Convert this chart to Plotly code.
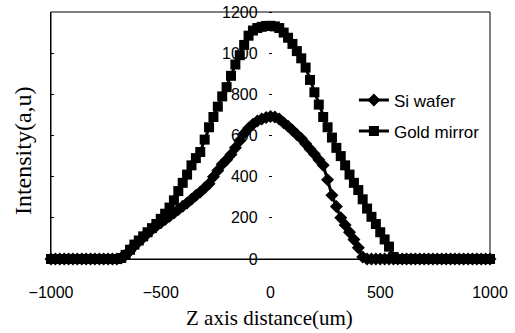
import plotly.graph_objects as go

# Z axis distance (um), sampled every 20 um
z_um = [-1000, -980, -960, -940, -920, -900, -880, -860, -840, -820,
        -800, -780, -760, -740, -720, -700, -680, -660, -640, -620,
        -600, -580, -560, -540, -520, -500, -480, -460, -440, -420,
        -400, -380, -360, -340, -320, -300, -280, -260, -240, -220,
        -200, -180, -160, -140, -120, -100, -80, -60, -40, -20,
        0, 20, 40, 60, 80, 100, 120, 140, 160, 180,
        200, 220, 240, 260, 280, 300, 320, 340, 360, 380,
        400, 420, 440, 460, 480, 500, 520, 540, 560, 580,
        600, 620, 640, 660, 680, 700, 720, 740, 760, 780,
        800, 820, 840, 860, 880, 900, 920, 940, 960, 980, 1000]

si_wafer = [0, 0, 0, 0, 0, 0, 0, 0, 0, 0,
            0, 0, 0, 0, 0, 0, 5, 20, 40, 65,
            85, 105, 125, 145, 160, 176, 192, 208, 224, 240,
            256, 272, 290, 308, 326, 345, 365, 400, 430, 460,
            482, 508, 540, 575, 610, 635, 655, 670, 680, 688,
            692, 690, 680, 662, 645, 625, 605, 585, 560, 535,
            510, 482, 455, 385, 310, 255, 200, 165, 130, 95,
            55, 10, 0, 0, 0, 0, 0, 0, 0, 0,
            0, 0, 0, 0, 0, 0, 0, 0, 0, 0,
            0, 0, 0, 0, 0, 0, 0, 0, 0, 0, 0]

gold_mirror = [0, 0, 0, 0, 0, 0, 0, 0, 0, 0,
               0, 0, 0, 0, 0, 0, 5, 20, 45, 70,
               90, 110, 130, 150, 170, 195, 220, 250, 285, 330,
               370, 410, 455, 490, 520, 580, 640, 690, 740, 790,
               835, 890, 945, 990, 1040, 1085, 1110, 1122, 1128, 1132,
               1133, 1130, 1122, 1100, 1075, 1045, 1010, 975, 930, 870,
               810, 750, 690, 640, 590, 540, 500, 455, 410, 370,
               335, 290, 245, 205, 170, 130, 95, 60, 10, 0,
               0, 0, 0, 0, 0, 0, 0, 0, 0, 0,
               0, 0, 0, 0, 0, 0, 0, 0, 0, 0, 0]

x_ticks = [-1000, -500, 0, 500, 1000]
y_ticks = [0, 200, 400, 600, 800, 1000, 1200]

SANS = "Liberation Sans, Arial, sans-serif"
SERIF = "Liberation Serif, Times New Roman, serif"

fig = go.Figure()
fig.add_trace(go.Scatter(
    x=z_um, y=si_wafer, name="Si wafer", mode="lines+markers",
    line=dict(color="black", width=3),
    marker=dict(symbol="diamond", size=10, color="black"),
    cliponaxis=False, legendgroup="a"))
fig.add_trace(go.Scatter(
    x=z_um, y=gold_mirror, name="Gold mirror", mode="lines+markers",
    line=dict(color="black", width=3),
    marker=dict(symbol="square", size=10, color="black"),
    cliponaxis=False, legendgroup="b"))
# helper trace for the inner ticks on the left frame
fig.add_trace(go.Scatter(x=[None], y=[None], yaxis="y2", showlegend=False,
                         hoverinfo="skip"))

fig.update_layout(
    width=515, height=333,
    margin=dict(l=51, r=25, t=12, b=74, autoexpand=False),
    paper_bgcolor="white", plot_bgcolor="white",
    showlegend=True,
    legend=dict(x=0.69, y=0.715, xanchor="left", yanchor="top",
                font=dict(family=SANS, size=17, color="black"),
                bgcolor="rgba(0,0,0,0)", traceorder="grouped",
                tracegroupgap=6, itemwidth=30),
    xaxis=dict(range=[-1000, 1000], tickvals=x_ticks, automargin=False,
               showgrid=False, zeroline=False,
               showline=True, linecolor="black", linewidth=1,
               ticks="", ticklabelstandoff=19, ticklabeloverflow="allow",
               tickfont=dict(family=SANS, size=16, color="black")),
    yaxis=dict(range=[0, 1200], tickvals=y_ticks, anchor="free",
               position=0.503, showgrid=False, zeroline=False,
               showline=False, ticks="outside", ticklen=3,
               tickcolor="black", ticklabelstandoff=8, automargin=False,
               ticklabeloverflow="allow", layer="below traces",
               tickfont=dict(family=SANS, size=16, color="black")),
    yaxis2=dict(range=[0, 1200], tickvals=y_ticks, overlaying="y",
                anchor="x", side="left", showgrid=False, zeroline=False,
                showline=True, linecolor="black", linewidth=1,
                ticks="inside", ticklen=3, tickcolor="black",
                showticklabels=False, automargin=False),
    shapes=[dict(type="rect", xref="paper", yref="paper", x0=0, x1=1,
                 y0=0, y1=1, line=dict(color="black", width=1))],
    annotations=[
        dict(text="Intensity(a,u)", xref="paper", yref="paper",
             x=-0.062, y=0.44, textangle=-90, showarrow=False,
             xanchor="center", yanchor="middle",
             font=dict(family=SERIF, size=24, color="black")),
        dict(text="Z axis distance(um)", xref="paper", yref="paper",
             x=0.497, y=-0.24, showarrow=False,
             xanchor="center", yanchor="middle",
             font=dict(family=SERIF, size=21, color="black")),
    ],
)

# remove the default 8 px page margin so the 515x333 figure fills the window
fig.write_html("out.html", config={"displayModeBar": False},
               post_script="document.body.style.margin='0px';")
